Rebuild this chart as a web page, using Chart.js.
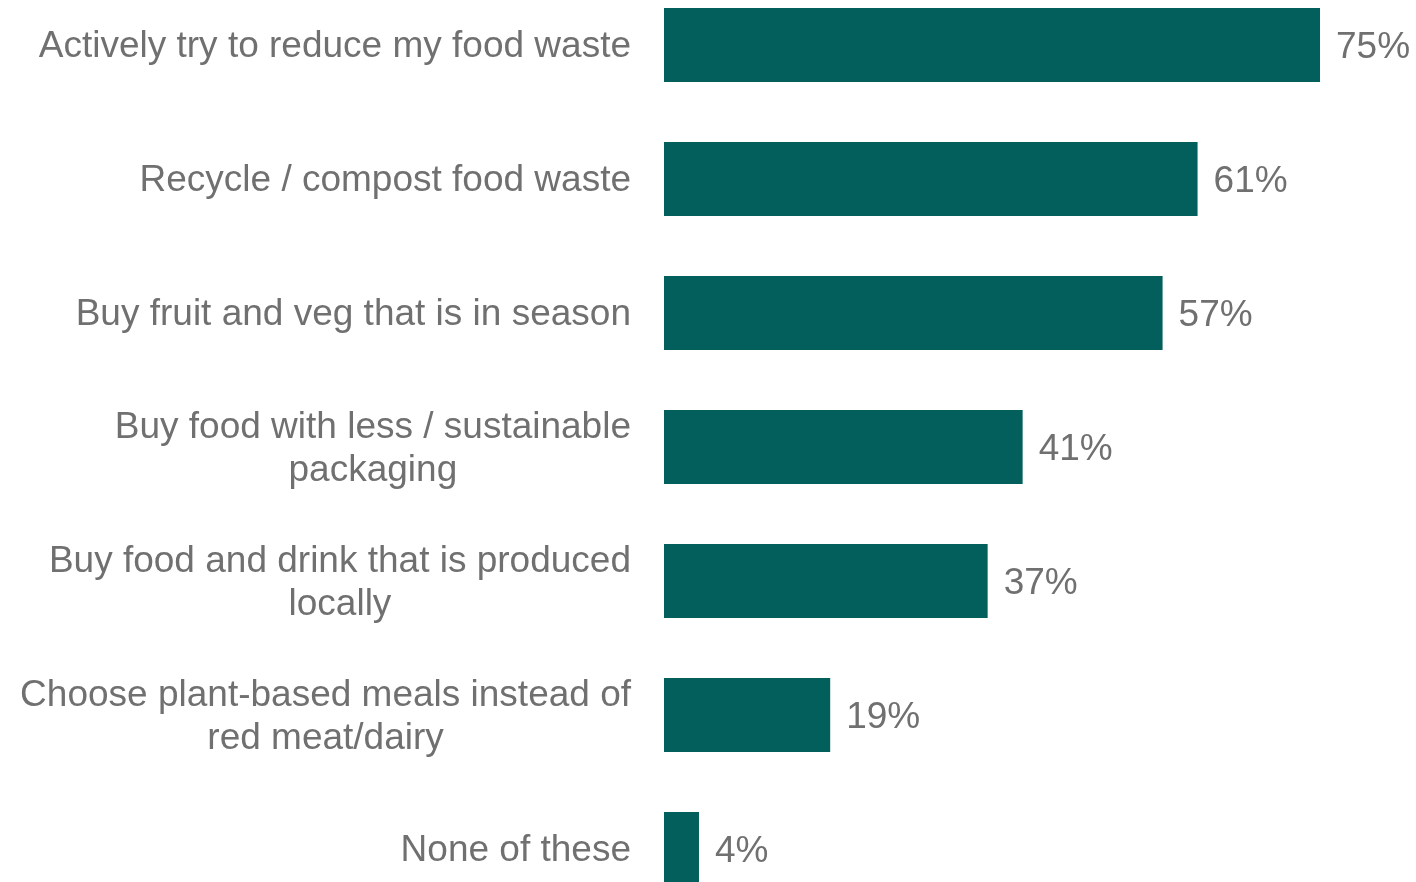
<!DOCTYPE html>
<html>
<head>
<meta charset="utf-8">
<script src="https://cdn.jsdelivr.net/npm/chart.js@4.4.1/dist/chart.umd.min.js"></script>
<style>
html,body{margin:0;padding:0;background:#fff;overflow:hidden}
#wrap{position:absolute;left:0;top:-22px;width:1416px;height:938px}
</style>
</head>
<body>
<div id="wrap"><canvas id="chart"></canvas></div>
<script>
// actions people take around food
const categories=[
["Actively try to reduce my food waste"],
["Recycle / compost food waste"],
["Buy fruit and veg that is in season"],
["Buy food with less / sustainable","packaging"],
["Buy food and drink that is produced","locally"],
["Choose plant-based meals instead of","red meat/dairy"],
["None of these"]
]
const values=[75,61,57,41,37,19,4]
const valueLabels=["75%","61%","57%","41%","37%","19%","4%"]

const teal="#025f5c"
const grey="#707070"
const font="37px 'Liberation Sans', Arial, sans-serif"

// category names: each line centred on the widest line, block right-aligned next to the bars
const labelPlugin={
id:"labels",
afterDraw(chart){
let ctx=chart.ctx
let y=chart.scales.y
let x=chart.scales.x
ctx.save()
ctx.font=font
ctx.fillStyle=grey
ctx.textBaseline="middle"
ctx.textAlign="center"
categories.forEach((lines,i)=>{
let cy=y.getPixelForValue(i)+2
let w=Math.max(...lines.map(l=>ctx.measureText(l).width))
let cx=631-w/2
let lh=43
let y0=cy-(lines.length-1)*lh/2
lines.forEach((l,j)=>ctx.fillText(l,cx,y0+j*lh))
})
// value at the end of each bar
ctx.textAlign="left"
values.forEach((v,i)=>{
ctx.fillText(valueLabels[i],x.getPixelForValue(v)+16,y.getPixelForValue(i)+3)
})
ctx.restore()
}
}

new Chart(document.getElementById("chart"),{
type:"bar",
data:{
labels:categories,
datasets:[{data:values,backgroundColor:teal,borderWidth:0,categoryPercentage:1,barPercentage:0.552}]
},
options:{
indexAxis:"y",
responsive:true,
maintainAspectRatio:false,
animation:false,
layout:{padding:{left:664,right:8.5,top:0,bottom:0}},
plugins:{legend:{display:false},tooltip:{enabled:false}},
scales:{
x:{display:false,min:0,max:85},
y:{display:false}
}
},
plugins:[labelPlugin]
})
</script>
</body>
</html>
